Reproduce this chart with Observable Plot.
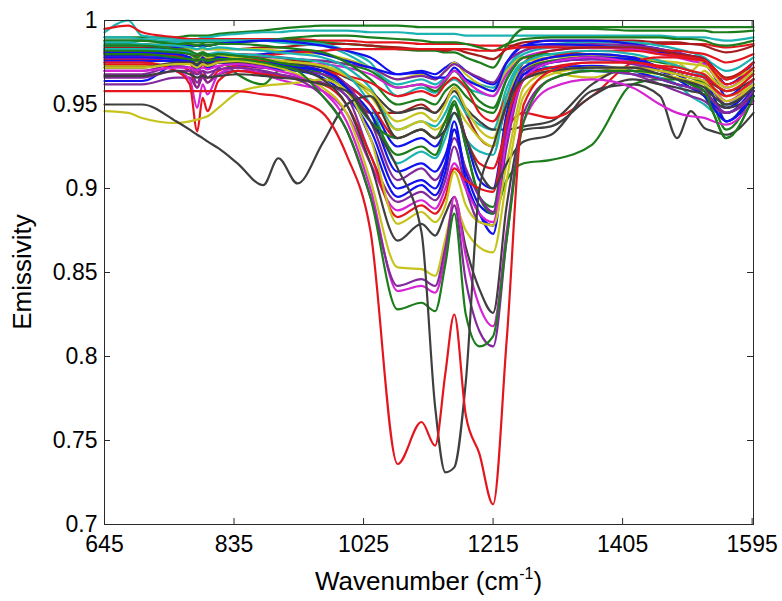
<!DOCTYPE html>
<html>
<head>
<meta charset="utf-8">
<script src="https://cdn.jsdelivr.net/npm/d3@7"></script>
<script src="https://cdn.jsdelivr.net/npm/@observablehq/plot@0.6"></script>
<style>
  html, body { margin: 0; padding: 0; background: #fff; }
  #chart svg { display: block; }
</style>
</head>
<body>
<div id="chart"></div>
<script>
// ---------------- data ----------------
const wavenumber = [645,680,700,750,770,781,789,796,812,840,878,900,928,965,1000,1035,1075,1110,1130,1145,1158,1175,1195,1215,1235,1260,1300,1360,1420,1460,1485,1505,1525,1538,1557,1597];
const xTicks = [645, 835, 1025, 1215, 1405, 1595];
const yTicks = [0.7, 0.75, 0.8, 0.85, 0.9, 0.95, 1];
const xLabel = "Wavenumber (cm";
const xLabelSup = "-1";
const yLabel = "Emissivity";

const greenTop = [0.990,0.990,0.990,0.990,0.991, 0.991,0.991,0.991,0.992,0.993, 0.994,0.995,0.996,0.997,0.997, 0.997,0.997,0.996,0.996,0.996, 0.996,0.996,0.996,0.996,0.996, 0.996,0.996,0.996,0.996,0.996, 0.996,0.996,0.996,0.996,0.996, 0.996];
const tealTop = [0.993,1.000,0.991,0.989,0.989, 0.989,0.990,0.990,0.991,0.992, 0.993,0.993,0.994,0.994,0.994, 0.993,0.993,0.992,0.992,0.992, 0.992,0.991,0.991,0.991,0.991, 0.991,0.991,0.991,0.991,0.991, 0.990,0.990,0.990,0.989,0.988, 0.990];
const redTop = [0.995,0.997,0.993,0.990,0.989, 0.989,0.989,0.989,0.989,0.989, 0.989,0.989,0.989,0.988,0.988, 0.987,0.987,0.986,0.986,0.986, 0.986,0.986,0.985,0.985,0.985, 0.985,0.985,0.985,0.986,0.986, 0.986,0.986,0.986,0.985,0.984, 0.986];
const green2 = [0.988,0.988,0.988,0.987,0.987, 0.987,0.987,0.987,0.987,0.987, 0.988,0.988,0.988,0.987,0.986, 0.985,0.983,0.982,0.982,0.981, 0.981,0.978,0.975,0.972,0.985, 0.995,0.995,0.995,0.994,0.994, 0.994,0.994,0.994,0.993,0.993, 0.994];
const green3 = [0.986,0.986,0.986,0.985,0.985, 0.985,0.985,0.985,0.986,0.987, 0.988,0.989,0.990,0.991,0.991, 0.990,0.989,0.988,0.987,0.987, 0.987,0.986,0.984,0.982,0.986, 0.989,0.990,0.990,0.990,0.990, 0.989,0.989,0.988,0.986,0.985, 0.988];
const darkRed1 = [0.984,0.984,0.984,0.984,0.983, 0.983,0.983,0.983,0.983,0.983, 0.984,0.984,0.985,0.986,0.986, 0.985,0.984,0.983,0.983,0.982, 0.983,0.981,0.979,0.977,0.983, 0.987,0.988,0.988,0.988,0.987, 0.987,0.986,0.985,0.983,0.981, 0.985];
const blue1 = [0.979,0.979,0.979,0.978,0.975, 0.972,0.976,0.974,0.978,0.979, 0.980,0.981,0.982,0.980,0.976, 0.972,0.968,0.969,0.966,0.966, 0.972,0.965,0.961,0.958,0.975, 0.985,0.986,0.985,0.983,0.981, 0.980,0.979,0.977,0.972,0.962, 0.975];
const red2 = [0.977,0.977,0.977,0.976,0.976, 0.976,0.976,0.976,0.977,0.978, 0.979,0.980,0.981,0.982,0.983, 0.983,0.983,0.983,0.983,0.983, 0.983,0.983,0.982,0.982,0.983, 0.984,0.984,0.984,0.983,0.982, 0.982,0.981,0.980,0.978,0.975, 0.980];
const magenta1 = [0.975,0.975,0.975,0.970,0.965, 0.948,0.962,0.956,0.968,0.972, 0.968,0.965,0.962,0.958,0.945, 0.915,0.887,0.893,0.888,0.900, 0.915,0.900,0.885,0.880,0.930, 0.965,0.975,0.978,0.975,0.972, 0.970,0.968,0.966,0.960,0.952, 0.965];
const yellow1 = [0.973,0.973,0.973,0.974,0.975, 0.975,0.976,0.976,0.977,0.977, 0.976,0.976,0.975,0.973,0.968, 0.955,0.935,0.940,0.935,0.940, 0.950,0.940,0.930,0.925,0.955, 0.975,0.978,0.979,0.978,0.976, 0.975,0.974,0.973,0.970,0.965, 0.972];
const purple1 = [0.968,0.968,0.968,0.973,0.972, 0.963,0.970,0.966,0.972,0.975, 0.973,0.972,0.970,0.968,0.962, 0.940,0.905,0.912,0.905,0.915, 0.930,0.912,0.895,0.886,0.935, 0.970,0.975,0.977,0.974,0.970, 0.968,0.966,0.964,0.958,0.950, 0.962];
const blue2 = [0.964,0.964,0.964,0.975,0.978, 0.972,0.978,0.975,0.978,0.976, 0.974,0.973,0.972,0.970,0.960, 0.930,0.895,0.902,0.896,0.910, 0.935,0.905,0.885,0.873,0.930, 0.968,0.972,0.973,0.970,0.965, 0.962,0.960,0.955,0.948,0.940, 0.955];
const purple2 = [0.962,0.962,0.962,0.966,0.966, 0.960,0.966,0.963,0.968,0.970, 0.969,0.968,0.966,0.963,0.955, 0.920,0.892,0.898,0.893,0.905, 0.925,0.900,0.880,0.878,0.925, 0.965,0.970,0.972,0.968,0.962, 0.958,0.955,0.952,0.948,0.945, 0.955];
const grayC = [0.950,0.950,0.950,0.940,0.935, 0.932,0.930,0.928,0.924,0.915, 0.902,0.918,0.903,0.927,0.950, 0.955,0.930,0.935,0.930,0.935, 0.945,0.930,0.910,0.900,0.915, 0.928,0.932,0.958,0.962,0.955, 0.930,0.946,0.936,0.934,0.932, 0.945];
const yellowD = [0.946,0.945,0.942,0.939,0.940, 0.941,0.942,0.943,0.948,0.957, 0.961,0.962,0.963,0.965,0.958, 0.930,0.879,0.886,0.880,0.890, 0.910,0.890,0.880,0.878,0.915, 0.960,0.970,0.972,0.972,0.970, 0.968,0.966,0.964,0.960,0.955, 0.962];
const redE = [0.975,0.975,0.975,0.970,0.962, 0.934,0.954,0.946,0.964,0.970, 0.968,0.967,0.965,0.962,0.950, 0.920,0.883,0.890,0.885,0.895, 0.912,0.905,0.900,0.898,0.940, 0.965,0.972,0.975,0.975,0.973, 0.972,0.970,0.968,0.963,0.958, 0.968];
const grayH = [0.972,0.972,0.972,0.975,0.975, 0.974,0.975,0.974,0.975,0.975, 0.974,0.973,0.971,0.965,0.950, 0.915,0.869,0.879,0.872,0.885, 0.895,0.865,0.840,0.826,0.890, 0.935,0.937,0.955,0.965,0.962, 0.960,0.958,0.956,0.952,0.948, 0.955];
const greenG1 = [0.980,0.980,0.980,0.978,0.977, 0.976,0.977,0.976,0.977,0.977, 0.975,0.973,0.970,0.955,0.935, 0.895,0.828,0.832,0.827,0.855, 0.885,0.825,0.806,0.812,0.870, 0.940,0.965,0.970,0.970,0.968, 0.965,0.962,0.958,0.945,0.930, 0.955];
const magentaM2 = [0.970,0.970,0.970,0.972,0.972, 0.970,0.972,0.971,0.973,0.974, 0.972,0.970,0.967,0.958,0.940, 0.900,0.839,0.842,0.838,0.860, 0.895,0.860,0.830,0.818,0.875, 0.940,0.960,0.965,0.960,0.950, 0.945,0.943,0.942,0.940,0.938, 0.952];
const purpleP3 = [0.966,0.966,0.966,0.970,0.970, 0.968,0.970,0.969,0.971,0.972, 0.970,0.968,0.965,0.955,0.935, 0.895,0.842,0.846,0.842,0.865, 0.890,0.845,0.815,0.806,0.870, 0.945,0.965,0.970,0.968,0.965, 0.962,0.960,0.958,0.952,0.945, 0.958];
const yellowY2 = [0.972,0.972,0.972,0.974,0.974, 0.972,0.974,0.973,0.975,0.976, 0.974,0.972,0.968,0.960,0.945, 0.905,0.853,0.852,0.848,0.870, 0.890,0.875,0.865,0.862,0.905, 0.955,0.968,0.972,0.970,0.968, 0.966,0.964,0.962,0.958,0.952, 0.962];
const blue3 = [0.978,0.978,0.978,0.977,0.976, 0.970,0.975,0.972,0.975,0.974, 0.972,0.971,0.970,0.966,0.955, 0.935,0.900,0.905,0.900,0.915, 0.940,0.905,0.885,0.878,0.930, 0.965,0.975,0.978,0.977,0.972, 0.970,0.968,0.966,0.955,0.940, 0.958];
const blue4 = [0.981,0.981,0.981,0.980,0.978, 0.973,0.977,0.975,0.977,0.976, 0.975,0.974,0.973,0.970,0.960, 0.945,0.910,0.915,0.910,0.920, 0.935,0.910,0.890,0.885,0.935, 0.968,0.975,0.977,0.975,0.970, 0.965,0.960,0.955,0.950,0.945, 0.960];
const blue5 = [0.976,0.976,0.976,0.976,0.975, 0.974,0.975,0.974,0.975,0.974, 0.973,0.972,0.971,0.968,0.962, 0.950,0.925,0.930,0.925,0.935, 0.950,0.930,0.905,0.900,0.945, 0.972,0.978,0.980,0.978,0.972, 0.968,0.963,0.958,0.952,0.948, 0.962];
const teal1 = [0.983,0.983,0.983,0.982,0.981, 0.980,0.981,0.980,0.981,0.980, 0.979,0.978,0.977,0.975,0.968, 0.950,0.915,0.922,0.918,0.930, 0.945,0.930,0.922,0.920,0.955, 0.975,0.980,0.982,0.980,0.976, 0.973,0.970,0.966,0.958,0.950, 0.965];
const teal2 = [0.987,0.987,0.986,0.985,0.984, 0.983,0.984,0.983,0.984,0.983, 0.982,0.981,0.980,0.978,0.972, 0.960,0.935,0.940,0.937,0.945, 0.955,0.945,0.938,0.935,0.960, 0.975,0.972,0.970,0.968,0.966, 0.962,0.955,0.950,0.946,0.945, 0.958];
const teal3 = [0.990,0.990,0.989,0.988,0.988, 0.988,0.988,0.988,0.988,0.988, 0.988,0.988,0.987,0.986,0.982, 0.975,0.955,0.960,0.957,0.962, 0.965,0.960,0.957,0.955,0.970, 0.980,0.984,0.985,0.984,0.982, 0.980,0.978,0.976,0.970,0.965, 0.975];
const green4 = [0.985,0.985,0.985,0.983,0.982, 0.980,0.981,0.980,0.978,0.968, 0.962,0.970,0.972,0.970,0.960, 0.945,0.920,0.925,0.920,0.935, 0.950,0.925,0.895,0.889,0.940, 0.970,0.976,0.978,0.976,0.972, 0.968,0.966,0.962,0.950,0.935, 0.958];
const greenF = [0.982,0.982,0.982,0.981,0.980, 0.978,0.980,0.979,0.980,0.979, 0.977,0.975,0.973,0.968,0.958, 0.940,0.930,0.935,0.930,0.940, 0.952,0.925,0.895,0.885,0.905, 0.915,0.917,0.926,0.962,0.965, 0.965,0.962,0.955,0.945,0.930, 0.955];
const green6 = [0.988,0.988,0.988,0.986,0.986, 0.985,0.986,0.985,0.986,0.986, 0.985,0.984,0.983,0.981,0.975, 0.965,0.950,0.953,0.950,0.958, 0.962,0.955,0.948,0.945,0.965, 0.978,0.980,0.978,0.975,0.970, 0.968,0.966,0.963,0.955,0.940, 0.960];
const red5 = [0.981,0.981,0.980,0.979,0.975, 0.968,0.974,0.971,0.976,0.977, 0.976,0.975,0.973,0.970,0.962, 0.950,0.930,0.935,0.930,0.940, 0.950,0.930,0.915,0.912,0.935, 0.945,0.942,0.955,0.975,0.978, 0.978,0.977,0.976,0.970,0.962, 0.972];
const red6 = [0.974,0.974,0.974,0.973,0.970, 0.960,0.968,0.963,0.970,0.973, 0.972,0.972,0.971,0.970,0.967, 0.963,0.955,0.958,0.955,0.962, 0.966,0.960,0.945,0.940,0.955, 0.972,0.978,0.982,0.982,0.980, 0.979,0.978,0.976,0.972,0.965, 0.975];
const yellow3 = [0.975,0.975,0.975,0.977,0.978, 0.978,0.978,0.978,0.979,0.978, 0.977,0.976,0.975,0.973,0.967, 0.958,0.940,0.945,0.940,0.950, 0.960,0.948,0.935,0.930,0.955, 0.972,0.976,0.978,0.975,0.972, 0.975,0.970,0.976,0.968,0.960, 0.970];
const gray2 = [0.980,0.980,0.980,0.979,0.978, 0.977,0.978,0.977,0.978,0.977, 0.976,0.975,0.974,0.972,0.966, 0.958,0.945,0.948,0.945,0.952, 0.958,0.948,0.940,0.935,0.935, 0.937,0.940,0.962,0.972,0.972, 0.970,0.968,0.966,0.962,0.958, 0.965];
const magenta4 = [0.978,0.978,0.978,0.977,0.975, 0.968,0.974,0.971,0.975,0.976, 0.975,0.975,0.975,0.974,0.972, 0.968,0.960,0.962,0.960,0.965, 0.970,0.964,0.958,0.955,0.968, 0.978,0.982,0.984,0.983,0.980, 0.978,0.976,0.974,0.968,0.960, 0.972];
const darkRed2 = [0.982,0.982,0.982,0.981,0.980, 0.979,0.980,0.979,0.980,0.980, 0.979,0.978,0.976,0.972,0.962, 0.945,0.945,0.950,0.945,0.952, 0.960,0.945,0.930,0.925,0.950, 0.975,0.982,0.984,0.984,0.982, 0.980,0.979,0.977,0.972,0.966, 0.975];
const blue6 = [0.983,0.983,0.983,0.984,0.985, 0.985,0.985,0.985,0.986,0.987, 0.988,0.988,0.987,0.985,0.982, 0.978,0.968,0.970,0.968,0.972, 0.975,0.970,0.965,0.962,0.975, 0.985,0.988,0.988,0.986,0.983, 0.981,0.978,0.975,0.968,0.955, 0.970];
const purple4 = [0.970,0.970,0.970,0.975,0.976, 0.972,0.976,0.974,0.977,0.978, 0.978,0.978,0.977,0.976,0.974, 0.972,0.965,0.967,0.965,0.970, 0.974,0.970,0.966,0.963,0.975, 0.982,0.985,0.986,0.985,0.983, 0.981,0.979,0.977,0.972,0.965, 0.975];
const teal4 = [0.985,0.985,0.985,0.987,0.988, 0.988,0.988,0.988,0.988,0.988, 0.988,0.987,0.986,0.985,0.980, 0.972,0.962,0.965,0.962,0.966, 0.970,0.965,0.962,0.960,0.972, 0.982,0.986,0.987,0.987,0.985, 0.983,0.981,0.978,0.974,0.970, 0.978];
const yellow4 = [0.980,0.980,0.980,0.982,0.983, 0.983,0.983,0.983,0.983,0.983, 0.983,0.982,0.981,0.980,0.977, 0.972,0.965,0.968,0.965,0.970, 0.975,0.968,0.962,0.958,0.970, 0.978,0.970,0.966,0.972,0.965, 0.970,0.962,0.970,0.965,0.958, 0.968];
const green7 = [0.983,0.983,0.983,0.982,0.981, 0.980,0.980,0.979,0.978,0.977, 0.976,0.976,0.976,0.976,0.974, 0.970,0.960,0.962,0.958,0.964, 0.970,0.962,0.952,0.948,0.965, 0.978,0.980,0.980,0.978,0.975, 0.973,0.970,0.967,0.960,0.948, 0.965];
const grayB = [0.967,0.967,0.967,0.970,0.968, 0.966,0.967,0.966,0.967,0.968, 0.967,0.966,0.965,0.962,0.958, 0.940,0.912,0.874,0.770,0.731, 0.734,0.785,0.900,0.925,0.950, 0.965,0.970,0.972,0.972,0.968, 0.965,0.963,0.960,0.955,0.950, 0.960];
const redA = [0.958,0.958,0.958,0.958,0.958, 0.958,0.958,0.958,0.958,0.958, 0.956,0.955,0.952,0.945,0.920, 0.875,0.736,0.761,0.747,0.790, 0.825,0.765,0.742,0.712,0.810, 0.950,0.970,0.975,0.975,0.972, 0.970,0.968,0.966,0.960,0.955, 0.965];

// ---------------- drawing ----------------
const palette = {
  blue: "#1212ee", green: "#1b7d1b", red: "#e3161e", darkred: "#a41c1c",
  teal: "#1cb3b3", magenta: "#d424d4", purple: "#83299c", yellow: "#c6c41c", gray: "#3f3f3f"
};
const series = [
  ["greenTop", greenTop, "green"], ["tealTop", tealTop, "teal"], ["redTop", redTop, "red"],
  ["green2", green2, "green"], ["green3", green3, "green"], ["darkRed1", darkRed1, "darkred"],
  ["teal4", teal4, "teal"], ["teal3", teal3, "teal"], ["blue6", blue6, "blue"],
  ["yellow4", yellow4, "yellow"], ["green7", green7, "green"], ["purple4", purple4, "purple"],
  ["blue1", blue1, "blue"], ["red2", red2, "red"], ["magenta4", magenta4, "magenta"],
  ["darkRed2", darkRed2, "darkred"], ["green6", green6, "green"], ["teal2", teal2, "teal"],
  ["yellow1", yellow1, "yellow"], ["gray2", gray2, "gray"], ["red6", red6, "red"],
  ["yellow3", yellow3, "yellow"], ["teal1", teal1, "teal"], ["blue5", blue5, "blue"],
  ["red5", red5, "red"], ["green4", green4, "green"], ["blue4", blue4, "blue"],
  ["greenF", greenF, "green"], ["purple1", purple1, "purple"], ["blue3", blue3, "blue"],
  ["purple2", purple2, "purple"], ["blue2", blue2, "blue"], ["magenta1", magenta1, "magenta"],
  ["redE", redE, "red"], ["yellowD", yellowD, "yellow"], ["grayC", grayC, "gray"],
  ["grayH", grayH, "gray"], ["yellowY2", yellowY2, "yellow"], ["magentaM2", magentaM2, "magenta"],
  ["purpleP3", purpleP3, "purple"], ["greenG1", greenG1, "green"], ["grayB", grayB, "gray"],
  ["redA", redA, "red"]
];

const W = 782, H = 601;
const mTop = 20, mBottom = 77, mLeft = 104, mRight = 29;
const innerW = W - mLeft - mRight, innerH = H - mTop - mBottom;
const tickLen = 6;
const axisColor = "#2a2a2a";
const fontFam = "'Liberation Sans', Arial, Helvetica, sans-serif";

const lineMarks = series.map(([name, vals, col]) =>
  Plot.line(vals.map((v, i) => ({w: wavenumber[i], e: v})), {
    x: "w", y: "e", stroke: palette[col], strokeWidth: 2.2, curve: "monotone-x"
  })
);

const chart = Plot.plot({
  width: W, height: H,
  marginTop: mTop, marginBottom: mBottom, marginLeft: mLeft, marginRight: mRight,
  x: {domain: [645, 1597]},
  y: {domain: [0.7, 1]},
  style: {fontFamily: fontFam, color: "#000", background: "#fff", overflow: "visible"},
  marks: [
    ...lineMarks,
    Plot.frame({stroke: axisColor, strokeWidth: 1}),
    Plot.tickX(xTicks, {x: d => d, insetTop: innerH - tickLen, stroke: axisColor}),
    Plot.tickX(xTicks, {x: d => d, insetBottom: innerH - tickLen, stroke: axisColor}),
    Plot.tickY(yTicks, {y: d => d, insetRight: innerW - tickLen, stroke: axisColor}),
    Plot.tickY(yTicks, {y: d => d, insetLeft: innerW - tickLen, stroke: axisColor}),
    Plot.axisX(xTicks, {tickSize: 0, tickPadding: 11, fontSize: 23, label: null, tickFormat: d => String(d)}),
    Plot.axisY(yTicks, {tickSize: 0, tickPadding: 7, fontSize: 23, label: null, tickFormat: d => String(d)})
  ]
});

document.getElementById("chart").appendChild(chart);

// axis titles (MATLAB style, with superscript)
const svg = d3.select(chart);
const xt = svg.append("text")
  .attr("x", mLeft + innerW / 2)
  .attr("y", 590)
  .attr("text-anchor", "middle")
  .attr("font-size", 26)
  .attr("fill", "#000")
  .attr("font-family", fontFam);
xt.append("tspan").text(xLabel);
xt.append("tspan").attr("dy", -11).attr("font-size", 16).text(xLabelSup);
xt.append("tspan").attr("dy", 11).text(")");

svg.append("text")
  .attr("transform", `translate(31,${mTop + innerH / 2}) rotate(-90)`)
  .attr("text-anchor", "middle")
  .attr("font-size", 26)
  .attr("fill", "#000")
  .attr("font-family", fontFam)
  .text(yLabel);
</script>
</body>
</html>
